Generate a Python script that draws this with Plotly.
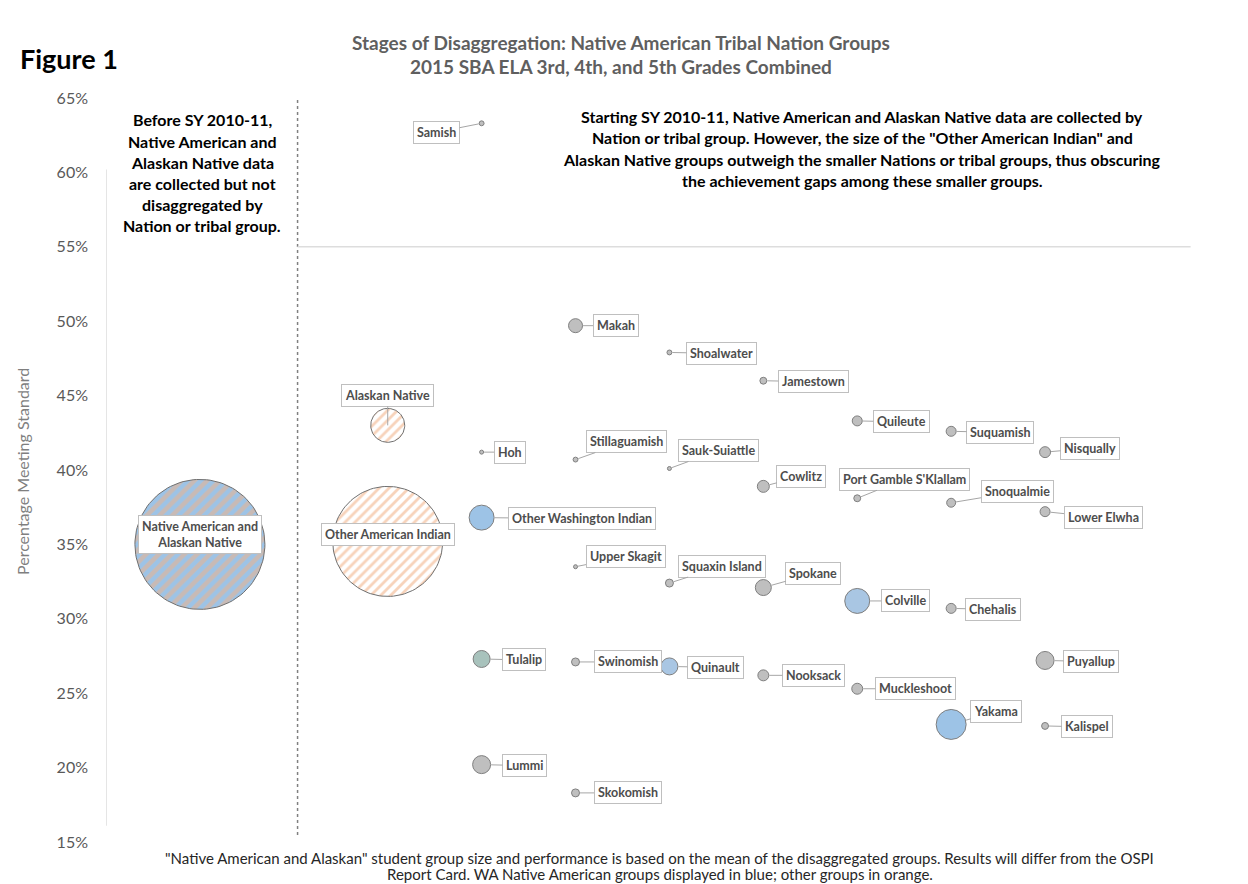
import numpy as np
import plotly.graph_objects as go

# ---------------------------------------------------------------- page geometry
FIG_W, FIG_H = 1248, 884
M_L, M_R, M_T, M_B = 106, 48, 98, 42
X_RANGE = [0, 11.65]
Y_RANGE = [15, 65]
FONT = "Lato"

# ---------------------------------------------------------------- data
# disaggregated tribal nation groups: slot on the x axis, % meeting standard, group size
groups = [
    "Samish", "Makah", "Shoalwater", "Jamestown", "Quileute", "Suquamish", "Nisqually",
    "Hoh", "Stillaguamish", "Sauk-Suiattle", "Cowlitz", "Port Gamble S'Klallam",
    "Snoqualmie", "Lower Elwha", "Other Washington Indian", "Upper Skagit",
    "Squaxin Island", "Spokane", "Colville", "Chehalis", "Tulalip", "Swinomish",
    "Quinault", "Nooksack", "Puyallup", "Muckleshoot", "Yakama", "Kalispel",
    "Lummi", "Skokomish",
]
slot = [4, 5, 6, 7, 8, 9, 10,
        4, 5, 6, 7, 8,
        9, 10, 4, 5,
        6, 7, 8, 9, 4, 5,
        6, 7, 10, 8, 9, 10,
        4, 5]
pct_met = [63.3, 49.7, 47.9, 46.0, 43.3, 42.6, 41.2,
           41.2, 40.7, 40.1, 38.9, 38.1,
           37.8, 37.2, 36.8, 33.5,
           32.4, 32.1, 31.2, 30.7, 27.3, 27.1,
           26.8, 26.2, 27.2, 25.3, 22.9, 22.8,
           20.2, 18.3]
students = [12, 98, 12, 24, 50, 50, 60,
            8, 12, 8, 72, 24,
            40, 50, 312, 8,
            32, 128, 312, 50, 144, 32,
            144, 60, 162, 60, 450, 24,
            162, 32]
fill_colors = ["#BFBFBF", "#BFBFBF", "#BFBFBF", "#BFBFBF", "#BFBFBF", "#BFBFBF", "#BFBFBF",
               "#BFBFBF", "#BFBFBF", "#BFBFBF", "#BFBFBF", "#BFBFBF",
               "#BFBFBF", "#BFBFBF", "#9DC3E6", "#BFBFBF",
               "#BFBFBF", "#BFBFBF", "#A9C6E3", "#BFBFBF", "#A8C2BC", "#BFBFBF",
               "#A9C6E3", "#BFBFBF", "#BFBFBF", "#BFBFBF", "#9DC3E6", "#BFBFBF",
               "#BFBFBF", "#BFBFBF"]

# aggregated groups drawn with hatched fills
agg_groups = ["Native American and<br>Alaskan Native", "Other American Indian", "Alaskan Native"]
agg_slot = [1, 3, 3]
agg_pct = [35.0, 35.2, 43.0]
agg_students = [8450, 6050, 578]

# y axis ticks
tick_vals = [15, 20, 25, 30, 35, 40, 45, 50, 55, 60, 65]
tick_text = ["15%", "20%", "25%", "30%", "35%", "40%", "45%", "50%", "55%", "60%", "65%"]

# ---------------------------------------------------------------- helpers
plot_w = FIG_W - M_L - M_R
plot_h = FIG_H - M_T - M_B
px_per_x = plot_w / (X_RANGE[1] - X_RANGE[0])
px_per_y = plot_h / (Y_RANGE[1] - Y_RANGE[0])


def radius_px(n):
    # same rule plotly uses for sizemode="area" with sizeref=1
    return np.sqrt(n / 2.0)


def px(xp):
    return (xp - M_L) / plot_w


def py(yp):
    return (FIG_H - M_B - yp) / plot_h


def circle(cx, cy, n, steps=121):
    r = radius_px(n)
    t = np.linspace(0, 2 * np.pi, steps)
    return cx + r / px_per_x * np.cos(t), cy + r / px_per_y * np.sin(t)


fig = go.Figure()

# hatched aggregate bubbles
agg_styles = [
    dict(bg="#9DC3E6", fg="#F4B183", size=9, solidity=0.5),
    dict(bg="#FFFFFF", fg="#F0A878", size=7, solidity=0.4),
    dict(bg="#FFFFFF", fg="#F0A878", size=7, solidity=0.4),
]
for name, xs, ys, n, st in zip(agg_groups, agg_slot, agg_pct, agg_students, agg_styles):
    cx, cy = circle(xs, ys, n)
    fig.add_trace(go.Scatter(
        x=cx, y=cy, mode="lines", fill="toself",
        fillcolor=st["bg"],
        fillpattern=dict(shape="/", fgcolor=st["fg"], bgcolor=st["bg"],
                         size=st["size"], solidity=st["solidity"]),
        line=dict(color="#6F6F6F", width=1),
        hoverinfo="skip", showlegend=False,
    ))

# tribal nation bubbles
fig.add_trace(go.Scatter(
    x=slot, y=pct_met, mode="markers", text=groups,
    marker=dict(size=students, sizemode="area", sizeref=1, color=fill_colors,
                line=dict(color="#7F7F7F", width=1), opacity=1),
    hovertemplate="%{text}: %{y:.1f}%<extra></extra>",
    showlegend=False, cliponaxis=False,
))

# ---------------------------------------------------------------- callout labels
label_offsets = {
    "Samish": (-45, 9), "Makah": (40, 0), "Shoalwater": (52, 1), "Jamestown": (50, 1),
    "Quileute": (44, 1), "Suquamish": (49, 1), "Nisqually": (45, -4), "Hoh": (28, 0),
    "Stillaguamish": (51, -18), "Sauk-Suiattle": (49, -18), "Cowlitz": (38, -10),
    "Port Gamble S'Klallam": (47, -19), "Snoqualmie": (66, -11), "Lower Elwha": (58, 6),
    "Other Washington Indian": (100, 1), "Upper Skagit": (50, -10),
    "Squaxin Island": (53, -17), "Spokane": (50, -14), "Colville": (48, 0),
    "Chehalis": (42, 1), "Tulalip": (42, 1), "Swinomish": (52, 0), "Quinault": (46, 1),
    "Nooksack": (50, 0), "Puyallup": (46, 1), "Muckleshoot": (58, 0), "Yakama": (45, -13),
    "Kalispel": (42, 1), "Lummi": (43, 1), "Skokomish": (52, 0),
}
box = dict(bgcolor="#FFFFFF", bordercolor="#BFBFBF", borderwidth=1, borderpad=3)
label_font = dict(family=FONT, size=12.5, color="#4D4D4D", weight="bold")

for name, xs, ys, n in zip(groups, slot, pct_met, students):
    ax, ay = label_offsets[name]
    fig.add_annotation(
        x=xs, y=ys, text=name, ax=ax, ay=ay, showarrow=True, arrowhead=0,
        arrowwidth=1, arrowcolor="#A6A6A6", standoff=radius_px(n) + 0.5,
        font=label_font, **box,
    )

# aggregate labels
fig.add_annotation(x=agg_slot[0], y=agg_pct[0], text=agg_groups[0], showarrow=False,
                   yshift=10, font=label_font, **box)
fig.add_annotation(x=agg_slot[1], y=agg_pct[1], text=agg_groups[1], showarrow=False,
                   yshift=7, font=label_font, **box)
fig.add_annotation(x=agg_slot[2], y=agg_pct[2], text=agg_groups[2], ax=0, ay=-30,
                   showarrow=True, arrowhead=0, arrowwidth=1, arrowcolor="#A6A6A6",
                   standoff=0, font=label_font, **box)

# ---------------------------------------------------------------- dividers
fig.add_shape(type="line", xref="x", yref="paper", x0=2.04, x1=2.04, y0=py(835), y1=py(100),
              line=dict(color="#808080", width=1.5, dash="dot"))
fig.add_shape(type="line", xref="x", yref="y", x0=2.04, x1=11.55, y0=55, y1=55,
              line=dict(color="#DDDDDD", width=1.5))
fig.add_shape(type="line", xref="x", yref="y", x0=0, x1=0, y0=16.1, y1=60.2,
              line=dict(color="#DDDDDD", width=1.5))

# ---------------------------------------------------------------- text blocks
def text_lines(lines, cx, top, step, size, weight="bold", color="#000000"):
    for i, line in enumerate(lines):
        fig.add_annotation(xref="paper", yref="paper", x=px(cx), y=py(top + i * step),
                           text=line, showarrow=False, xanchor="center", yanchor="middle",
                           font=dict(family=FONT, size=size, color=color, weight=weight))


fig.add_annotation(xref="paper", yref="paper", x=px(18), y=py(58), text="Figure 1",
                   showarrow=False, xanchor="left", yanchor="middle",
                   font=dict(family=FONT, size=27, color="#000000", weight="bold"))

text_lines(["Stages of Disaggregation: Native American Tribal Nation Groups",
            "2015 SBA ELA 3rd, 4th, and 5th Grades Combined"],
           621, 43, 24, 19, weight="bold", color="#5F5F5F")

text_lines(["Before SY 2010-11,", "Native American and", "Alaskan Native data",
            "are collected but not", "disaggregated by", "Nation or tribal group."],
           202, 120, 21.2, 16)

text_lines(["Starting SY 2010-11, Native American and Alaskan Native data are collected by",
            "Nation or tribal group. However, the size of the \"Other American Indian\" and",
            "Alaskan Native groups outweigh the smaller Nations or tribal groups, thus obscuring",
            "the achievement gaps among these smaller groups."],
           862, 117, 21, 16)

text_lines(["\"Native American and Alaskan\" student group size and performance is based on the mean "
            "of the disaggregated groups. Results will differ from the OSPI",
            "Report Card. WA Native American groups displayed in blue; other groups in orange."],
           660, 858, 16, 15, weight="normal", color="#262626")

fig.add_annotation(xref="paper", yref="paper", x=px(22), y=py(472),
                   text="Percentage Meeting Standard", textangle=-90, showarrow=False,
                   xanchor="center", yanchor="middle",
                   font=dict(family=FONT, size=16, color="#7F7F7F"))

# ---------------------------------------------------------------- axes / layout
fig.update_xaxes(range=X_RANGE, visible=False, fixedrange=True)
fig.update_yaxes(range=Y_RANGE, tickmode="array", tickvals=tick_vals, ticktext=tick_text,
                 showgrid=False, zeroline=False, showline=False, ticks="",
                 ticklabelstandoff=17,
                 tickfont=dict(family=FONT, size=16, color="#595959"), fixedrange=True)
fig.update_layout(
    width=FIG_W, height=FIG_H,
    margin=dict(l=M_L, r=M_R, t=M_T, b=M_B, autoexpand=False),
    paper_bgcolor="#FFFFFF", plot_bgcolor="#FFFFFF",
    font=dict(family=FONT), showlegend=False,
)

fig.write_html("out.html")
